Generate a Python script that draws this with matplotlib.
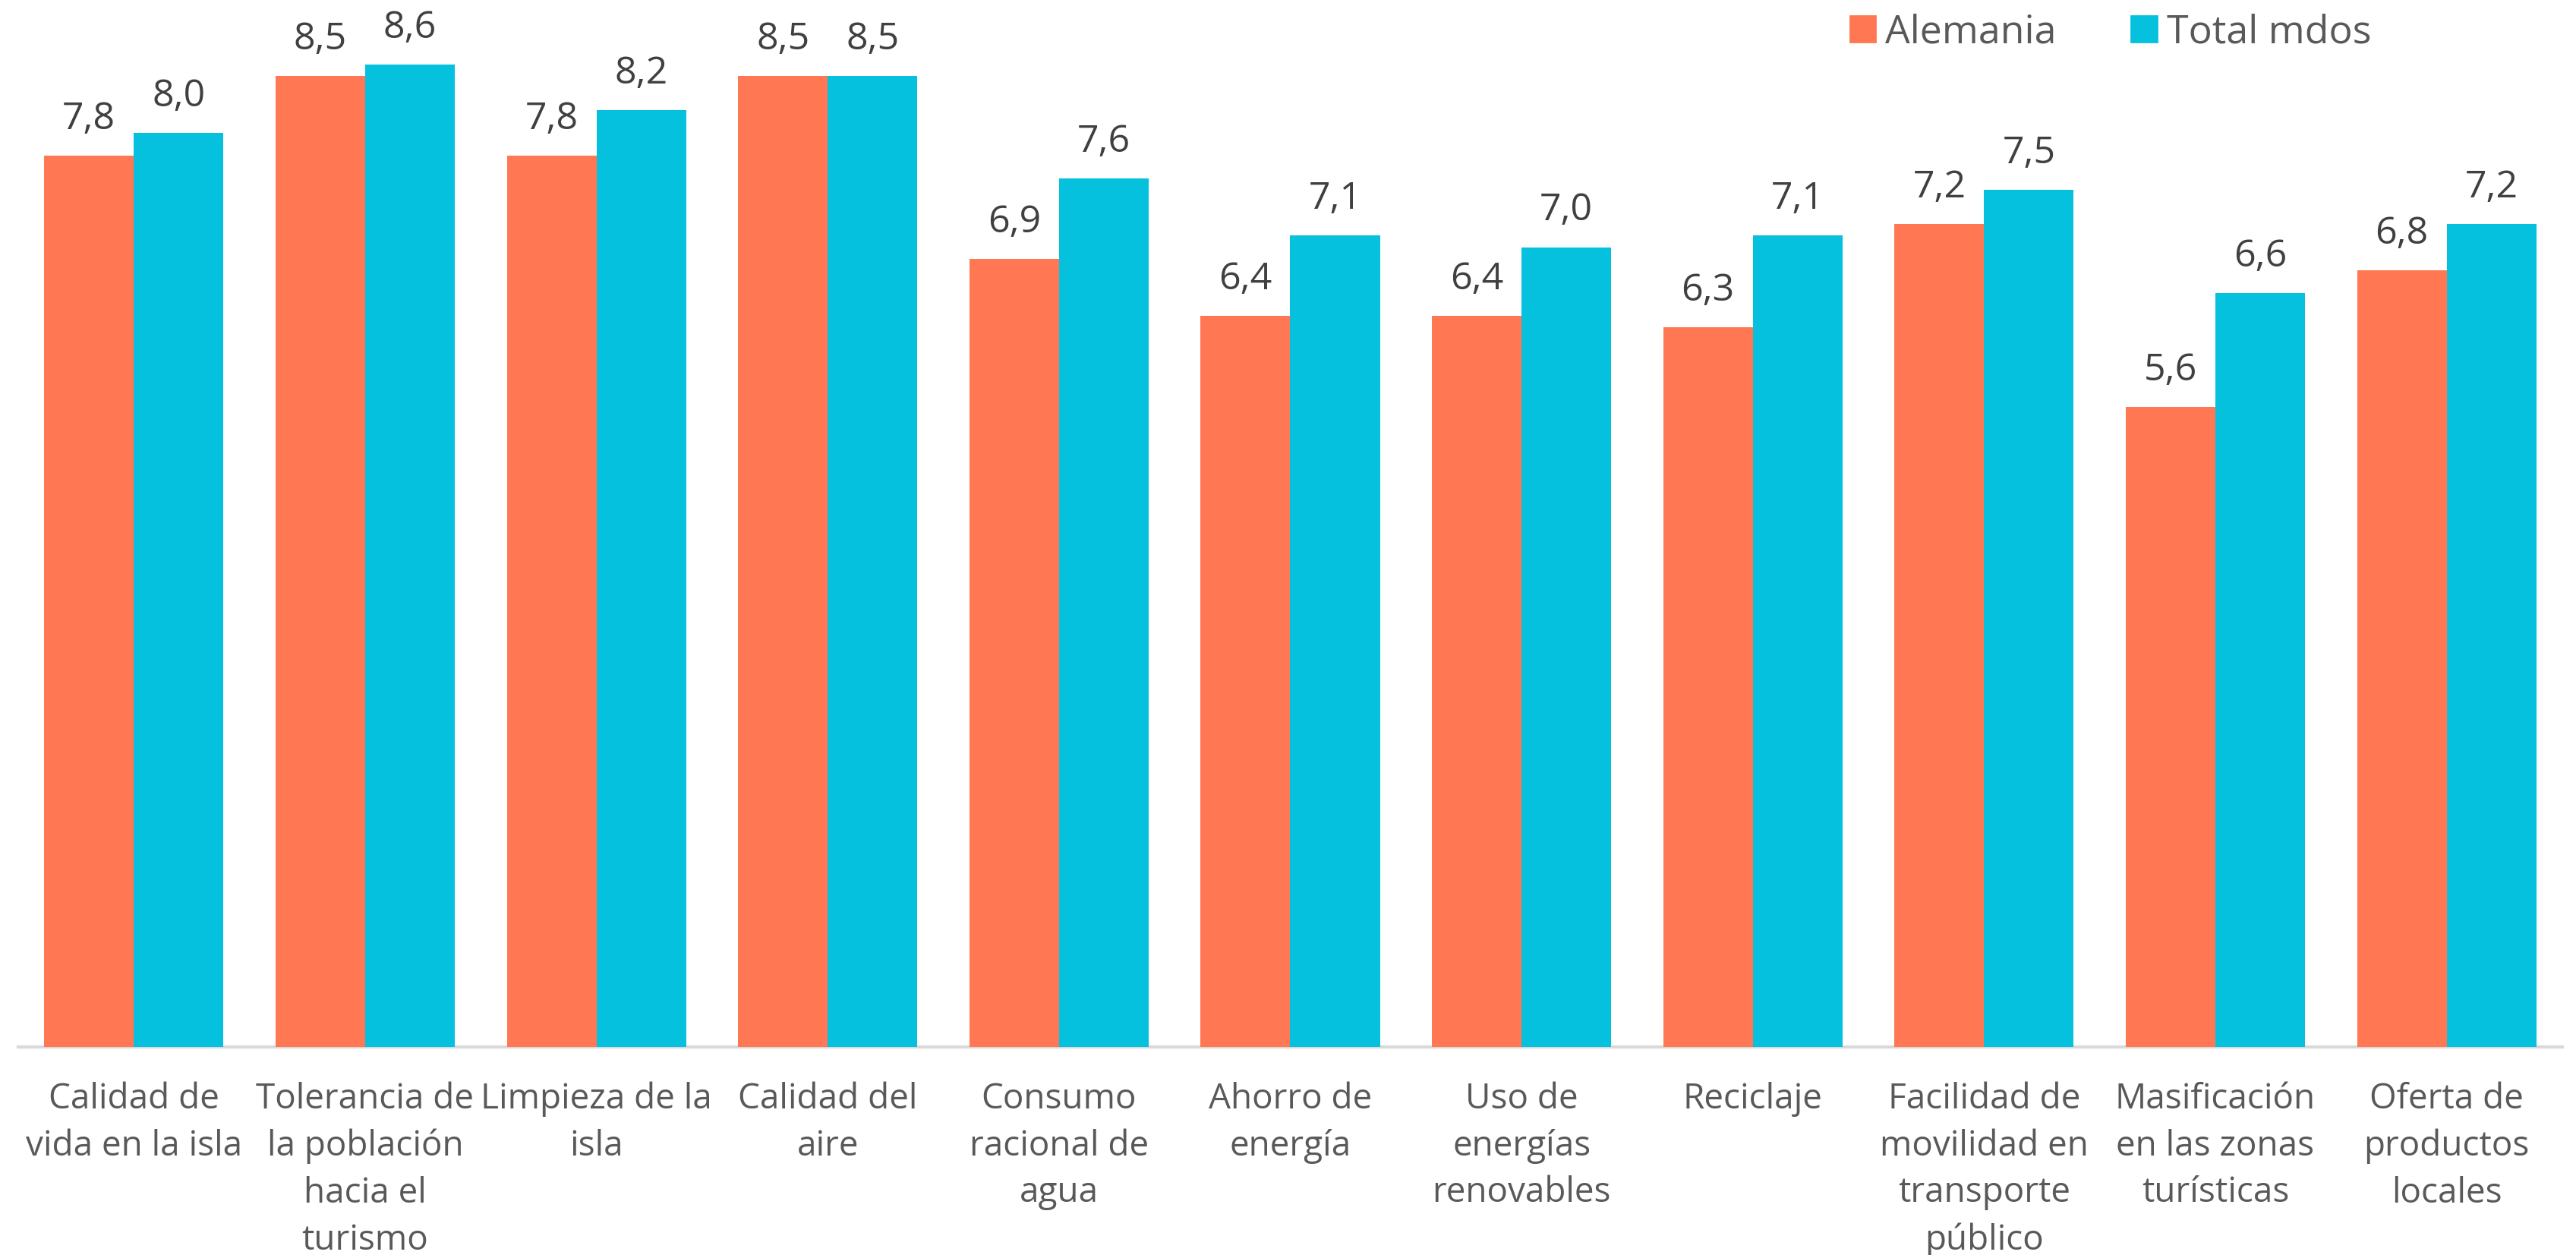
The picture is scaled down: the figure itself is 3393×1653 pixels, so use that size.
import numpy as np
import matplotlib
matplotlib.use("Agg")
import matplotlib.pyplot as plt
from matplotlib.patches import Patch

plt.rcParams["font.family"] = ["Open Sans", "DejaVu Sans"]

categories = [
    "Calidad de\nvida en la isla",
    "Tolerancia de\nla población\nhacia el\nturismo",
    "Limpieza de la\nisla",
    "Calidad del\naire",
    "Consumo\nracional de\nagua",
    "Ahorro de\nenergía",
    "Uso de\nenergías\nrenovables",
    "Reciclaje",
    "Facilidad de\nmovilidad en\ntransporte\npúblico",
    "Masificación\nen las zonas\nturísticas",
    "Oferta de\nproductos\nlocales",
]
alemania = [7.8, 8.5, 7.8, 8.5, 6.9, 6.4, 6.4, 6.3, 7.2, 5.6, 6.8]
total_mdos = [8.0, 8.6, 8.2, 8.5, 7.6, 7.1, 7.0, 7.1, 7.5, 6.6, 7.2]
series_names = ["Alemania", "Total mdos"]
colors = ["#FF7853", "#05C1DE"]

W, H, DPI = 3393, 1653, 200
fig = plt.figure(figsize=(W / DPI, H / DPI), dpi=DPI)
ax = fig.add_axes([24 / W, 1 - 1379 / H, (3375 - 24) / W, 1379 / H])

x = np.arange(len(categories))
bw = 0.3875
for vals, off, col in zip([alemania, total_mdos], [-bw / 2, bw / 2], colors):
    bars = ax.bar(x + off, vals, bw, color=col, zorder=3)
    for b, v in zip(bars, vals):
        ax.annotate(f"{v:.1f}".replace(".", ","),
                    xy=(b.get_x() + b.get_width() / 2, v),
                    xytext=(0, 12.6), textcoords="offset points",
                    ha="center", va="baseline", fontsize=18, color="#404040")

# category labels under each group (first line top just below the axis)
for xi, lab in zip(x, categories):
    ax.annotate(lab, xy=(xi, 0), xytext=(0, -16.5), textcoords="offset points",
                ha="center", va="top", multialignment="center",
                fontsize=16.5, color="#595959", linespacing=1.45,
                annotation_clip=False)

ax.set_xlim(-0.5, 10.5)
ax.set_ylim(0, 1379 / 150.5)
ax.set_xticks([])
ax.set_yticks([])
for s in ["top", "left", "right"]:
    ax.spines[s].set_visible(False)
ax.spines["bottom"].set_color("#D9D9D9")
ax.spines["bottom"].set_linewidth(1.5)

handles = [Patch(color=c, label=n) for c, n in zip(colors, series_names)]
fig.legend(handles=handles, loc="center left",
           bbox_to_anchor=(2437 / W, 1 - 43 / H), ncol=2, frameon=False,
           fontsize=18.7, handlelength=0.64, handleheight=0.64,
           handletextpad=0.25, columnspacing=1.9, borderpad=0,
           borderaxespad=0, labelcolor="#595959")

fig.savefig("out.png", dpi=DPI)
